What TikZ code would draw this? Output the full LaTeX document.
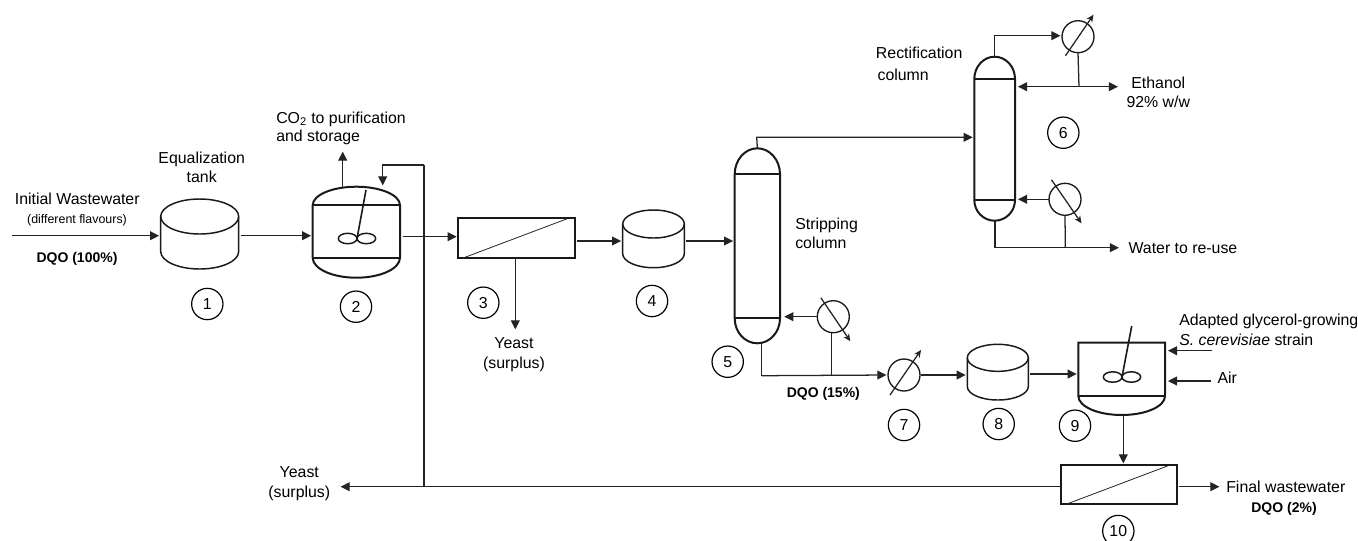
\documentclass[tikz,border=0pt]{standalone}
\usepackage{fontspec}
\setmainfont{Liberation Sans}
\usepackage{xcolor}
\usetikzlibrary{arrows.meta, fit, positioning}
\definecolor{pipegray}{RGB}{35, 35, 35}
\definecolor{vesselgray}{RGB}{25, 25, 25}

% tank: node, half width and depth of the lid (px)
\newcommand{\drawtank}[3]{
  \draw[tankline] ([yshift=-#3*0.75pt]#1.north west) arc[start angle=180, end angle=-180, x radius=#2*0.75pt, y radius=#3*0.75pt];
  \draw[tankline] ([yshift=-#3*0.75pt]#1.north west) -- ([yshift=#3*0.75pt]#1.south west)
    arc[start angle=180, end angle=360, x radius=#2*0.75pt, y radius=#3*0.75pt] -- ([yshift=-#3*0.75pt]#1.north east);
}
% vessel with two domes: node, half width, top and bottom depth (px)
\newcommand{\drawvessel}[4]{
  \draw[vessel] ([yshift=-#3*0.75pt]#1.north west) arc[start angle=180, end angle=0, x radius=#2*0.75pt, y radius=#3*0.75pt]
    -- ([yshift=#4*0.75pt]#1.south east) arc[start angle=0, end angle=-180, x radius=#2*0.75pt, y radius=#4*0.75pt] -- cycle;
  \draw[vessel] ([yshift=-#3*0.75pt]#1.north west) -- ([yshift=-#3*0.75pt]#1.north east);
  \draw[vessel] ([yshift=#4*0.75pt]#1.south west) -- ([yshift=#4*0.75pt]#1.south east);
}
% stirrer: top of the shaft, hub
\newcommand{\drawstirrer}[2]{
  \draw[vessel, line width=1.2pt] (#1) -- (#2);
  \draw[vessel, line width=1.1pt] ([xshift=-7pt]#2) ellipse[x radius=7pt, y radius=3.9pt];
  \draw[vessel, line width=1.1pt] ([xshift=7pt]#2) ellipse[x radius=7pt, y radius=3.9pt];
}

\begin{document}
\begin{tikzpicture}[
    x=0.75pt, y=-0.75pt,
    every node/.style={font=\fontsize{11.9}{14}\selectfont, text=black},
    body/.style={inner sep=0pt, outer sep=0pt},
    tankline/.style={draw=vesselgray, line width=1.1pt},
    vessel/.style={draw=vesselgray, line width=1.5pt},
    filterbox/.style={rectangle, draw=vesselgray, line width=1.3pt, inner sep=0pt, outer sep=0pt},
    exchanger/.style={circle, draw=vesselgray, line width=1pt, minimum size=24pt, inner sep=0pt, outer sep=0pt},
    num/.style={circle, draw=black, line width=0.9pt, minimum size=23.5pt, inner sep=0pt},
    bold/.style={font=\fontsize{10.5}{12}\selectfont\bfseries},
    arrow/.style={-{Triangle[length=6.8pt, width=6.6pt]}, draw=pipegray, line width=0.95pt, shorten >=1.2pt},
    pipe/.style={draw=pipegray, line width=0.95pt},
    thru/.style={-{Stealth[length=5.5pt, width=5pt]}, draw=pipegray, line width=0.95pt},
    thinline/.style={draw=pipegray, line width=0.6pt},
    txtl/.style={anchor=west, inner sep=0pt}
]
\useasboundingbox (0,0) rectangle (1358,540);

% Equipment
\node[body, fit={(160.7,199) (238.7,269)}] (tankA) {};
\node[body, fit={(312.7,186.7) (400,277.7)}] (reactorA) {};
\node[filterbox, fit={(458.3,218.3) (575,258.3)}] (filterA) {};
\node[body, fit={(622.7,210) (684.3,267.7)}] (tankB) {};
\node[body, fit={(734.7,148.3) (780,343.3)}] (stripcol) {};
\node[body, fit={(974.3,56.7) (1015,220.7)}] (rectcol) {};
\node[body, fit={(967.3,344.3) (1028.3,400)}] (tankC) {};
\node[body, fit={(1078.3,342.7) (1165,415)}] (reactorB) {};
\node[filterbox, fit={(1060.7,465) (1176.7,504.3)}] (filterB) {};

\drawtank{tankA}{39}{17.5}
\drawtank{tankB}{30.8}{14}
\drawtank{tankC}{30.5}{13.5}
\drawvessel{reactorA}{43.65}{18.5}{20}
\drawvessel{stripcol}{22.65}{26}{25}
\drawvessel{rectcol}{20.35}{22.3}{20.7}
\draw[vessel] (reactorB.north west) -- (reactorB.north east) -- ([yshift=14.25pt]reactorB.south east)
  arc[start angle=0, end angle=-180, x radius=32.5pt, y radius=14.25pt] -- cycle;
\draw[vessel] ([yshift=14.25pt]reactorB.south west) -- ([yshift=14.25pt]reactorB.south east);

\coordinate (shaftA) at (366,190);
\coordinate (hubA) at (357,238.5);
\coordinate (shaftB) at (1131.7,326);
\coordinate (hubB) at (1122,377);
\drawstirrer{shaftA}{hubA}
\drawstirrer{shaftB}{hubB}

\draw[thinline] ([xshift=3pt]filterA.south west) -- ([xshift=-5pt]filterA.north east);
\draw[thinline] ([xshift=4pt]filterB.south west) -- ([xshift=-5pt]filterB.north east);

% Heat exchangers
\node[exchanger] (rebA) at (833.3,316.7) {};
\node[exchanger] (condB) at (1078,36.7) {};
\node[exchanger] (rebB) at (1065,199.3) {};
\node[exchanger] (cooler) at (904,375) {};
\draw[thru] ([shift={(-12.5,-19)}]rebA.center) -- ([shift={(17,24.5)}]rebA.center);
\draw[thru] ([shift={(-12.5,19)}]condB.center) -- ([shift={(15.5,-22)}]condB.center);
\draw[thru] ([shift={(-13.5,-19.5)}]rebB.center) -- ([shift={(16.5,24)}]rebB.center);
\draw[thru] ([shift={(-14,20)}]cooler.center) -- ([shift={(17,-25)}]cooler.center);

% Junctions and free ends
\coordinate (feedin) at (12,235.7);
\coordinate (mainline) at (424,236.7);
\coordinate (yeastline) at (424,486.7);
\coordinate (recycletop) at (424,165);
\coordinate (recyclein) at (382.7,187);
\coordinate (co2line) at (342.7,187);
\coordinate (co2out) at (342.7,150);
\coordinate (yeastA) at (515.3,331);
\coordinate (beerline) at (600,241);
\coordinate (vapourtop) at (756.7,137.3);
\coordinate (stripbottom) at (761.7,375.7);
\coordinate (stripreb) at (831.7,375.7);
\coordinate (condtop) at (994.3,35.7);
\coordinate (ethline) at (1079,86.7);
\coordinate (ethanolout) at (1119.5,86.7);
\coordinate (rectbottom) at (995,247.7);
\coordinate (rectreb) at (1065.3,247.7);
\coordinate (waterout) at (1120.5,247.7);
\coordinate (fermline) at (1050,374);
\coordinate (strainin) at (1211.7,350.7);
\coordinate (airin) at (1210.7,381);
\coordinate (downline) at (1123.3,415);
\coordinate (yeastB) at (339,486.7);
\coordinate (finalout) at (1221,486.7);

% Arrows
\draw[arrow] (feedin) -- (tankA.west |- feedin);
\draw[arrow] ([xshift=1.5pt]tankA.east |- feedin) -- (reactorA.west |- feedin);
\draw[arrow] (co2line) -- (co2out);
\draw[pipe] (yeastline) -- (recycletop);
\draw[arrow] (recycletop) -| (recyclein);
\draw[arrow] ([xshift=2pt]reactorA.east |- mainline) -- (filterA.west |- mainline);
\draw[arrow] (yeastA |- filterA.south) -- (yeastA);
\draw[arrow] ([xshift=1.5pt]filterA.east |- beerline) -- (tankB.west |- beerline);
\draw[arrow] ([xshift=1pt]tankB.east |- beerline) -- (stripcol.west |- beerline);
\draw[arrow] (stripcol.north) -- (vapourtop) -- (vapourtop -| rectcol.west);
\draw[arrow] (rebA.west) -- ([xshift=2pt]stripcol.east |- rebA.west);
\draw[pipe] (stripbottom |- stripcol.south) -- (stripbottom);
\draw[arrow] (stripbottom) -- (cooler.west);
\draw[pipe] (stripreb |- rebA.south) -- (stripreb);
\draw[pipe] (condtop |- rectcol.north) -- (condtop);
\draw[arrow] (condtop) -- (condB.west |- condtop);
\draw[pipe] (condB.south) -- (ethline);
\draw[arrow] (ethline) -- ([xshift=1pt]rectcol.east |- ethline);
\draw[arrow] (ethline) -- (ethanolout);
\draw[arrow] (rebB.west) -- ([xshift=1pt]rectcol.east |- rebB.west);
\draw[pipe] (rectbottom |- rectcol.south) -- (rectbottom);
\draw[arrow] (rectbottom) -- (waterout);
\draw[pipe] (rebB.south) -- (rectreb);
\draw[arrow] ([xshift=1pt]cooler.east) -- (tankC.west |- cooler.east);
\draw[arrow] ([xshift=1.5pt]tankC.east |- fermline) -- (reactorB.west |- fermline);
\draw[arrow] (strainin) -- ([xshift=1pt]reactorB.east |- strainin);
\draw[arrow] (airin) -- ([xshift=1pt]reactorB.east |- airin);
\draw[arrow] (downline) -- (downline |- filterB.north);
\draw[arrow] (filterB.west |- yeastline) -- (yeastB);
\draw[arrow] ([xshift=1.5pt]filterB.east |- finalout) -- (finalout);

% Numbers
\node[num] (numA) at (207.3,304) {1};
\node[num] (numB) at (356,306.7) {2};
\node[num] (numC) at (483.3,302.7) {3};
\node[num] (numD) at (652,301) {4};
\node[num] (numE) at (727.7,361.7) {5};
\node[num] (numF) at (1063.3,132.7) {6};
\node[num] (numG) at (904,425) {7};
\node[num] (numH) at (998.7,424) {8};
\node[num] (numI) at (1075,425.7) {9};
\node[num] (numJ) at (1118.3,531) {10};

% Labels
\node (lblinit) at (77.3,199) {Initial Wastewater};
\node[font=\fontsize{9.3}{11}\selectfont] (lblflav) at (77,220) {(different flavours)};
\node[bold] (lblfeed) at (77,259.3) {DQO (100\%)};
\node (lbleq) at (201.7,159.3) {Equalization};
\node (lbltank) at (201.7,177.3) {tank};
\node[txtl] (lblco) at (276,119.3) {CO\textsubscript{2} to purification};
\node[txtl] (lblstore) at (276,137.3) {and storage};
\node (lblyeasta) at (514,343) {Yeast};
\node (lblsurpa) at (514,364.7) {(surplus)};
\node[txtl] (lblstrip) at (795,225) {Stripping};
\node[txtl] (lblstripb) at (795,243.3) {column};
\node[bold] (lblmid) at (823.3,394.3) {DQO (15\%)};
\node[txtl] (lblrect) at (875.7,53.3) {Rectification};
\node[txtl] (lblrectb) at (877.3,75) {column};
\node (lbleth) at (1158.3,82.7) {Ethanol};
\node (lblperc) at (1158.3,101.7) {92\% w/w};
\node[txtl] (lblwater) at (1128.3,247.7) {Water to re-use};
\node[txtl] (lblad) at (1179,321.7) {Adapted glycerol-growing};
\node[txtl] (lblstrain) at (1179,340) {\textit{S. cerevisiae} strain};
\node[txtl] (lblair) at (1217.3,377.7) {Air};
\node (lblyeastb) at (299.3,472) {Yeast};
\node (lblsurpb) at (299.3,493) {(surplus)};
\node[txtl] (lblfinal) at (1226,487) {Final wastewater};
\node[bold] (lblend) at (1284,509.3) {DQO (2\%)};

\end{tikzpicture}
\end{document}
